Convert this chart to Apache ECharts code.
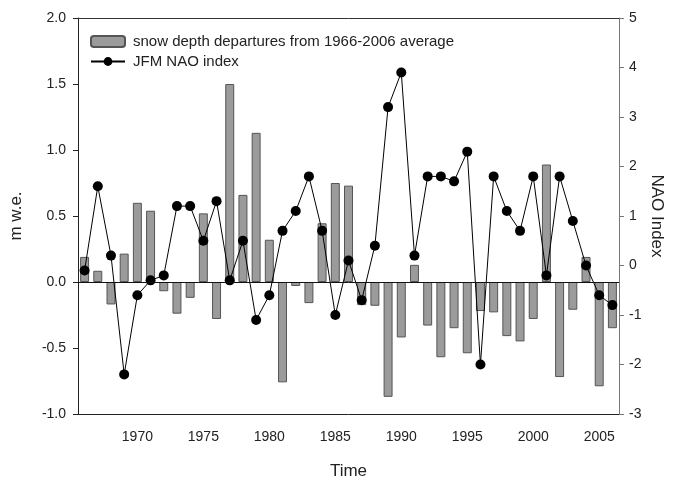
<!DOCTYPE html>
<html>
<head>
<meta charset="utf-8">
<script src="https://cdn.jsdelivr.net/npm/echarts@6/dist/echarts.min.js"></script>
<style>html,body{margin:0;padding:0;background:#fff}#c{width:676px;height:480px}</style>
</head>
<body>
<div id="c"></div>
<script>
var years = [];
for (var y = 1966; y <= 2006; y++) years.push(String(y));

var snowDepth = [0.19, 0.085, -0.17, 0.215, 0.60, 0.54, -0.07, -0.24, -0.12, 0.52,
  -0.28, 1.50, 0.66, 1.13, 0.32, -0.76, -0.03, -0.16, 0.445, 0.75,
  0.73, -0.175, -0.18, -0.87, -0.42, 0.13, -0.33, -0.57, -0.35, -0.54,
  -0.22, -0.23, -0.41, -0.45, -0.28, 0.89, -0.72, -0.21, 0.19, -0.79, -0.35];

var naoIndex = [-0.1, 1.6, 0.2, -2.2, -0.6, -0.3, -0.2, 1.2, 1.2, 0.5,
  1.3, -0.3, 0.5, -1.1, -0.6, 0.7, 1.1, 1.8, 0.7, -1.0,
  0.1, -0.7, 0.4, 3.2, 3.9, 0.2, 1.8, 1.8, 1.7, 2.3,
  -2.0, 1.8, 1.1, 0.7, 1.8, -0.2, 1.8, 0.9, 0.0, -0.6, -0.8];

var leftTicks = { min: -1, max: 2, step: 0.5 };
var rightTicks = { min: -3, max: 5, step: 1 };

var FONT = 'Liberation Sans, Arial, sans-serif';
var TXT = '#222';

function every5(i, v) { return Number(v) % 5 === 0; }

var chart = echarts.init(document.getElementById('c'), null, { renderer: 'canvas' });
chart.setOption({
  animation: false,
  textStyle: { fontFamily: FONT },
  grid: { left: 78, right: 57, top: 18, bottom: 66, containLabel: false, outerBoundsMode: 'none' },
  legend: {
    orient: 'vertical',
    left: 90, top: 34, padding: 0,
    itemWidth: 34, itemHeight: 11, itemGap: 5,
    textStyle: { fontSize: 15, color: TXT, fontFamily: FONT, padding: [0, 0, 0, 3] },
    data: [
      { name: 'snow depth departures from 1966-2006 average' },
      { name: 'JFM NAO index' }
    ]
  },
  xAxis: [{
    type: 'category',
    data: years,
    boundaryGap: true,
    position: 'bottom',
    name: 'Time',
    nameLocation: 'middle',
    nameGap: 49,
    nameMoveOverlap: false,
    nameTextStyle: { fontSize: 17, color: TXT, fontFamily: FONT },
    axisLine: { onZero: false, lineStyle: { color: '#222', width: 1 } },
    axisTick: { alignWithLabel: true, interval: every5, length: 5, lineStyle: { color: '#222' } },
    axisLabel: { interval: every5, fontSize: 14, color: TXT, margin: 16, fontFamily: FONT },
    splitLine: { show: false }
  }, {
    type: 'category',
    data: years,
    position: 'top',
    axisLine: { onZero: false, lineStyle: { color: '#333', width: 1 } },
    axisTick: { show: false },
    axisLabel: { show: false }
  }],
  yAxis: [{
    type: 'value',
    min: leftTicks.min, max: leftTicks.max, interval: leftTicks.step,
    position: 'left',
    name: 'm w.e.',
    nameLocation: 'middle',
    nameGap: 53,
    nameMoveOverlap: false,
    nameTextStyle: { fontSize: 17, color: TXT, fontFamily: FONT },
    axisLine: { show: true, onZero: false, lineStyle: { color: '#222', width: 1 } },
    axisTick: { show: true, length: 5, lineStyle: { color: '#222' } },
    axisLabel: { fontSize: 14, color: TXT, margin: 12, fontFamily: FONT,
      formatter: function (v) { return v.toFixed(1); } },
    splitLine: { show: false }
  }, {
    type: 'value',
    min: rightTicks.min, max: rightTicks.max, interval: rightTicks.step,
    position: 'right',
    name: 'NAO Index',
    nameLocation: 'middle',
    nameRotate: -90,
    nameGap: 29,
    nameMoveOverlap: false,
    nameTextStyle: { fontSize: 17, color: TXT, fontFamily: FONT },
    axisLine: { show: true, onZero: false, lineStyle: { color: '#777', width: 1 } },
    axisTick: { show: true, length: 5, lineStyle: { color: '#777' } },
    axisLabel: { fontSize: 14, color: TXT, margin: 10, fontFamily: FONT },
    splitLine: { show: false }
  }],
  series: [{
    name: 'snow depth departures from 1966-2006 average',
    type: 'bar',
    xAxisIndex: 0,
    yAxisIndex: 0,
    data: snowDepth,
    barWidth: '68%',
    itemStyle: { color: '#9b9b9b', borderColor: '#555', borderWidth: 1 },
    markLine: {
      silent: true,
      symbol: ['none', 'none'],
      label: { show: false },
      lineStyle: { color: '#111', width: 1, type: 'solid' },
      data: [{ yAxis: 0 }]
    },
    z: 2
  }, {
    name: 'JFM NAO index',
    type: 'line',
    xAxisIndex: 0,
    yAxisIndex: 1,
    data: naoIndex,
    symbol: 'circle',
    symbolSize: 10,
    showAllSymbol: true,
    itemStyle: { color: '#000' },
    lineStyle: { color: '#000', width: 1 },
    z: 3
  }]
});
</script>
</body>
</html>
